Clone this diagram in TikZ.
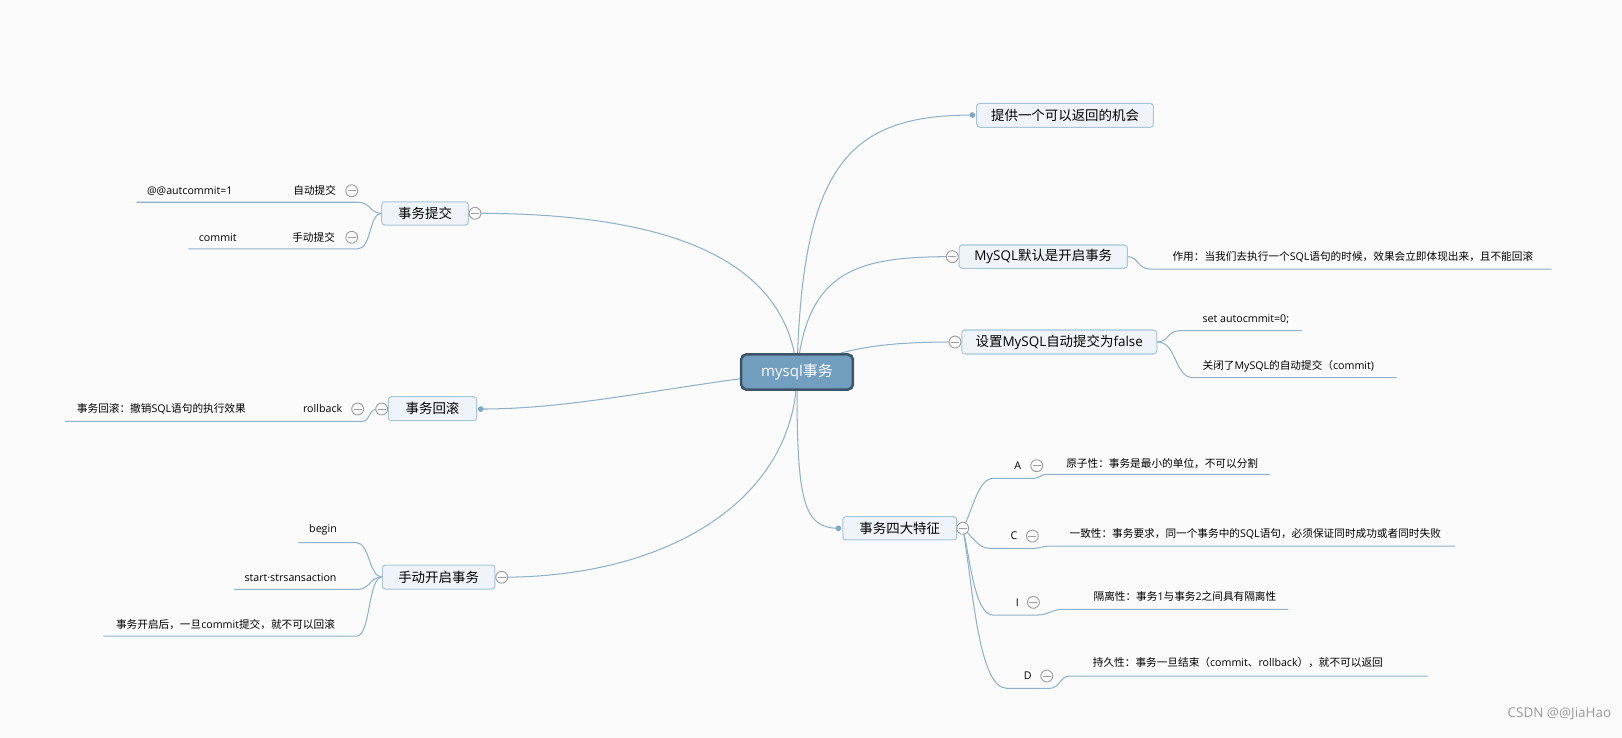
\documentclass[tikz,border=0pt]{standalone}
\usepackage{fontspec}
\setmainfont{Noto Sans CJK SC}
\newfontfamily\latf{Open Sans}
\newcommand\la[1]{{\latf #1}}
\definecolor{bg}{HTML}{FBFBFB}
\definecolor{ln}{HTML}{8FB1CB}
\definecolor{boxfill}{HTML}{EEF4F9}
\definecolor{boxdraw}{HTML}{A9C5DA}
\definecolor{cfill}{HTML}{729EC0}
\definecolor{cdraw}{HTML}{3D5567}
\definecolor{cir}{HTML}{9E9E9E}
\definecolor{dotc}{HTML}{7EA6C6}
\definecolor{wmc}{HTML}{9A9A9A}
\tikzset{
  topicbox/.style={draw=boxdraw, fill=boxfill, line width=1pt, rounded corners=3pt, inner sep=0pt, font=\fontsize{13}{15}\selectfont, text=black},
  centerbox/.style={draw=cdraw, fill=cfill, line width=2.5pt, rounded corners=5pt, inner sep=0pt, font=\fontsize{14.5}{16}\selectfont, text=white, minimum width=108pt, minimum height=34pt},
  small/.style={inner sep=0pt, font=\fontsize{10.3}{12}\selectfont, text=black},
  conn/.style={draw=ln, line width=1pt},
  collapse/.style={circle, draw=cir, fill=bg, line width=0.9pt, minimum size=11.5pt, inner sep=0pt,
    path picture={\draw[cir, line width=0.9pt] ([xshift=-3.8pt]path picture bounding box.center) -- ([xshift=3.8pt]path picture bounding box.center);}},
  dotn/.style={circle, fill=dotc, minimum size=5.5pt, inner sep=0pt}
}
\begin{document}
\begin{tikzpicture}[x=1pt,y=-1pt]
\useasboundingbox (0,0) rectangle (1568,713);
\fill[bg] (0,0) rectangle (1568,713);

% coordinates of connector ends
\coordinate (rootc) at (770.5,359.6);
\coordinate (u-auto) at (132,195.5);
\coordinate (u-man) at (182,240.5);
\coordinate (u-rb) at (62.8,407.3);
\coordinate (u-begin) at (288.4,524.6);
\coordinate (u-start) at (226.2,569.7);
\coordinate (u-after) at (99.9,614.9);
\coordinate (u-t2) at (1500,260.1);
\coordinate (u-set) at (1258.4,319.7);
\coordinate (u-off) at (1350,365.1);
\coordinate (u-A) at (1227.8,458.6);
\coordinate (u-C) at (1407,527.9);
\coordinate (u-I) at (1245.4,589);
\coordinate (u-D) at (1380,653.5);

% main connectors
\draw[conn] (rootc) .. controls (775,160) and (820,111.2) .. (940,111.2);
\draw[conn] (rootc) .. controls (780,260) and (830,248.1) .. (920.6,248.1);
\draw[conn] (rootc) .. controls (810,335) and (860,330.6) .. (923.2,330.6);
\draw[conn] (rootc) .. controls (770,480) and (775,510.7) .. (810.5,510.7);
\draw[conn] (rootc) .. controls (760,230) and (600,206.2) .. (459.2,206.2);
\draw[conn] (rootc) .. controls (650,372) and (560,395.4) .. (464.7,395.4);
\draw[conn] (rootc) .. controls (770,480) and (650,558) .. (485,558);

% nodes
\node[centerbox] (root) at (770.5,359.6) {\la{mysql}事务};
\node[topicbox, minimum width=170.8pt, minimum height=23.2pt] (t1) at (1029.6,111.5) {提供一个可以返回的机会};
\node[topicbox, minimum width=162.7pt, minimum height=22.5pt] (t2) at (1008.5,248.1) {\la{MySQL}默认是开启事务};
\node[topicbox, minimum width=188.5pt, minimum height=23.2pt] (t3) at (1024,330.6) {设置\la{MySQL}自动提交为\la{false}};
\node[topicbox, minimum width=110.2pt, minimum height=22.5pt] (t4) at (869.8,510.7) {事务四大特征};
\node[topicbox, minimum width=83.8pt, minimum height=22.5pt] (l1) at (410.9,206.3) {事务提交};
\node[topicbox, minimum width=85.4pt, minimum height=23.2pt] (l2) at (418.1,395.1) {事务回滚};
\node[topicbox, minimum width=108.9pt, minimum height=23.2pt] (l3) at (424,557.8) {手动开启事务};

% sub connectors left
\draw[conn] (l1.west) .. controls (358,206.3) and (358,195.5) .. (346,195.5) -- (u-auto);
\draw[conn] (l1.west) .. controls (357,206.3) and (359,240.5) .. (346,240.5) -- (u-man);
\draw[conn] (363.5,395.4) .. controls (357,395.4) and (358,407.3) .. (350,407.3) -- (u-rb);
\draw[conn] (l3.west) .. controls (357,557.8) and (357,524.6) .. (344.8,524.6) -- (u-begin);
\draw[conn] (l3.west) .. controls (358,557.8) and (357,569.7) .. (346.4,569.7) -- (u-start);
\draw[conn] (l3.west) .. controls (356,557.8) and (358,614.9) .. (344.8,614.9) -- (u-after);

% sub connectors right
\draw[conn] (t2.east) .. controls (1100,248.1) and (1100,260.1) .. (1111.8,260.1) -- (u-t2);
\draw[conn] (t3.east) .. controls (1130,330.6) and (1128,319.7) .. (1140.8,319.7) -- (u-set);
\draw[conn] (t3.east) .. controls (1138,330.6) and (1135,365.1) .. (1153.6,365.1) -- (u-off);
\draw[conn] (930.7,510.7) .. controls (940,495) and (945,462.4) .. (960.3,462.4) -- (999,462.4)
   .. controls (1006,462.4) and (1005,458.6) .. (1012,458.6) -- (u-A);
\draw[conn] (930.7,510.7) .. controls (940,518) and (945,530.1) .. (957,530.1) -- (998,530.1)
   .. controls (1006,530.1) and (1007,527.9) .. (1015,527.9) -- (u-C);
\draw[conn] (930.7,510.7) .. controls (938,540) and (942,594.6) .. (960,594.6) -- (1002,594.6)
   .. controls (1014,594.6) and (1016,589) .. (1028,589) -- (u-I);
\draw[conn] (930.7,510.7) .. controls (940,560) and (945,665.4) .. (973.2,665.4) -- (1015,665.4)
   .. controls (1024,665.4) and (1025,653.5) .. (1034.4,653.5) -- (u-D);

% collapse circles
\node[collapse] (ct2) at (920.6,248.1) {};
\node[collapse] (ct3) at (923.2,330.6) {};
\node[collapse] (ct4) at (930.7,510.7) {};
\node[collapse] (cl1) at (459.2,206.2) {};
\node[collapse] (cl2) at (369,395.4) {};
\node[collapse] (cl3) at (485,558) {};
\node[collapse] (cauto) at (340,184.4) {};
\node[collapse] (cman) at (340,229.4) {};
\node[collapse] (crb) at (345.8,395.4) {};
\node[collapse] (cA) at (1002.2,450.2) {};
\node[collapse] (cC) at (998,518.2) {};
\node[collapse] (cI) at (999,582.3) {};
\node[collapse] (cD) at (1011.9,653.5) {};

% dots
\node[dotn] (d1) at (940,111.2) {};
\node[dotn] (dl2) at (464.7,395.4) {};
\node[dotn] (dt4) at (810.5,510.7) {};

% left texts
\node[small, anchor=west] (tauto) at (142,184.4) {\la{@@autcommit=1}};
\node[small, anchor=east] (lauto) at (325,184.4) {自动提交};
\node[small, anchor=east] (tcommit) at (229,229.4) {\la{commit}};
\node[small, anchor=east] (lman) at (324,229.4) {手动提交};
\node[small, anchor=east] (lrb) at (331,395) {\la{rollback}};
\node[small, anchor=east] (trb) at (237.8,395) {事务回滚：撤销\la{SQL}语句的执行效果};
\node[small, anchor=east] (tbegin) at (325.8,512.4) {\la{begin}};
\node[small, anchor=east] (tstart) at (325.5,558) {\la{start·strsansaction}};
\node[small, anchor=east] (tafter) at (324,603.6) {事务开启后，一旦\la{commit}提交，就不可以回滚};

% right texts
\node[small, anchor=west] (tt2) at (1133.3,248.1) {作用：当我们去执行一个\la{SQL}语句的时候，效果会立即体现出来，且不能回滚};
\node[small, anchor=west] (tset) at (1162.3,308.7) {\la{set autocmmit=0;}};
\node[small, anchor=west] (toff) at (1162.3,354.5) {关闭了\la{MySQL}的自动提交（\la{commit)}};
\node[small] (lA) at (983.8,450.2) {\la{A}};
\node[small, anchor=west] (tA) at (1030.6,447.9) {原子性：事务是最小的单位，不可以分割};
\node[small] (lC) at (980.3,518.2) {\la{C}};
\node[small, anchor=west] (tC) at (1033.8,516.5) {一致性：事务要求，同一个事务中的\la{SQL}语句，必须保证同时成功或者同时失败};
\node[small] (lI) at (983.5,582.3) {\la{I}};
\node[small, anchor=west] (tI) at (1057,576.8) {隔离性：事务\la{1}与事务\la{2}之间具有隔离性};
\node[small] (lD) at (993.5,653.5) {\la{D}};
\node[small, anchor=west] (tD) at (1056.3,640.6) {持久性：事务一旦结束（\la{commit}、\la{rollback}），就不可以返回};

% watermark
\node[inner sep=0pt, font=\fontsize{13}{15}\selectfont, text=wmc] (wm) at (1507.5,690) {\la{CSDN @@JiaHao}};
\end{tikzpicture}
\end{document}
